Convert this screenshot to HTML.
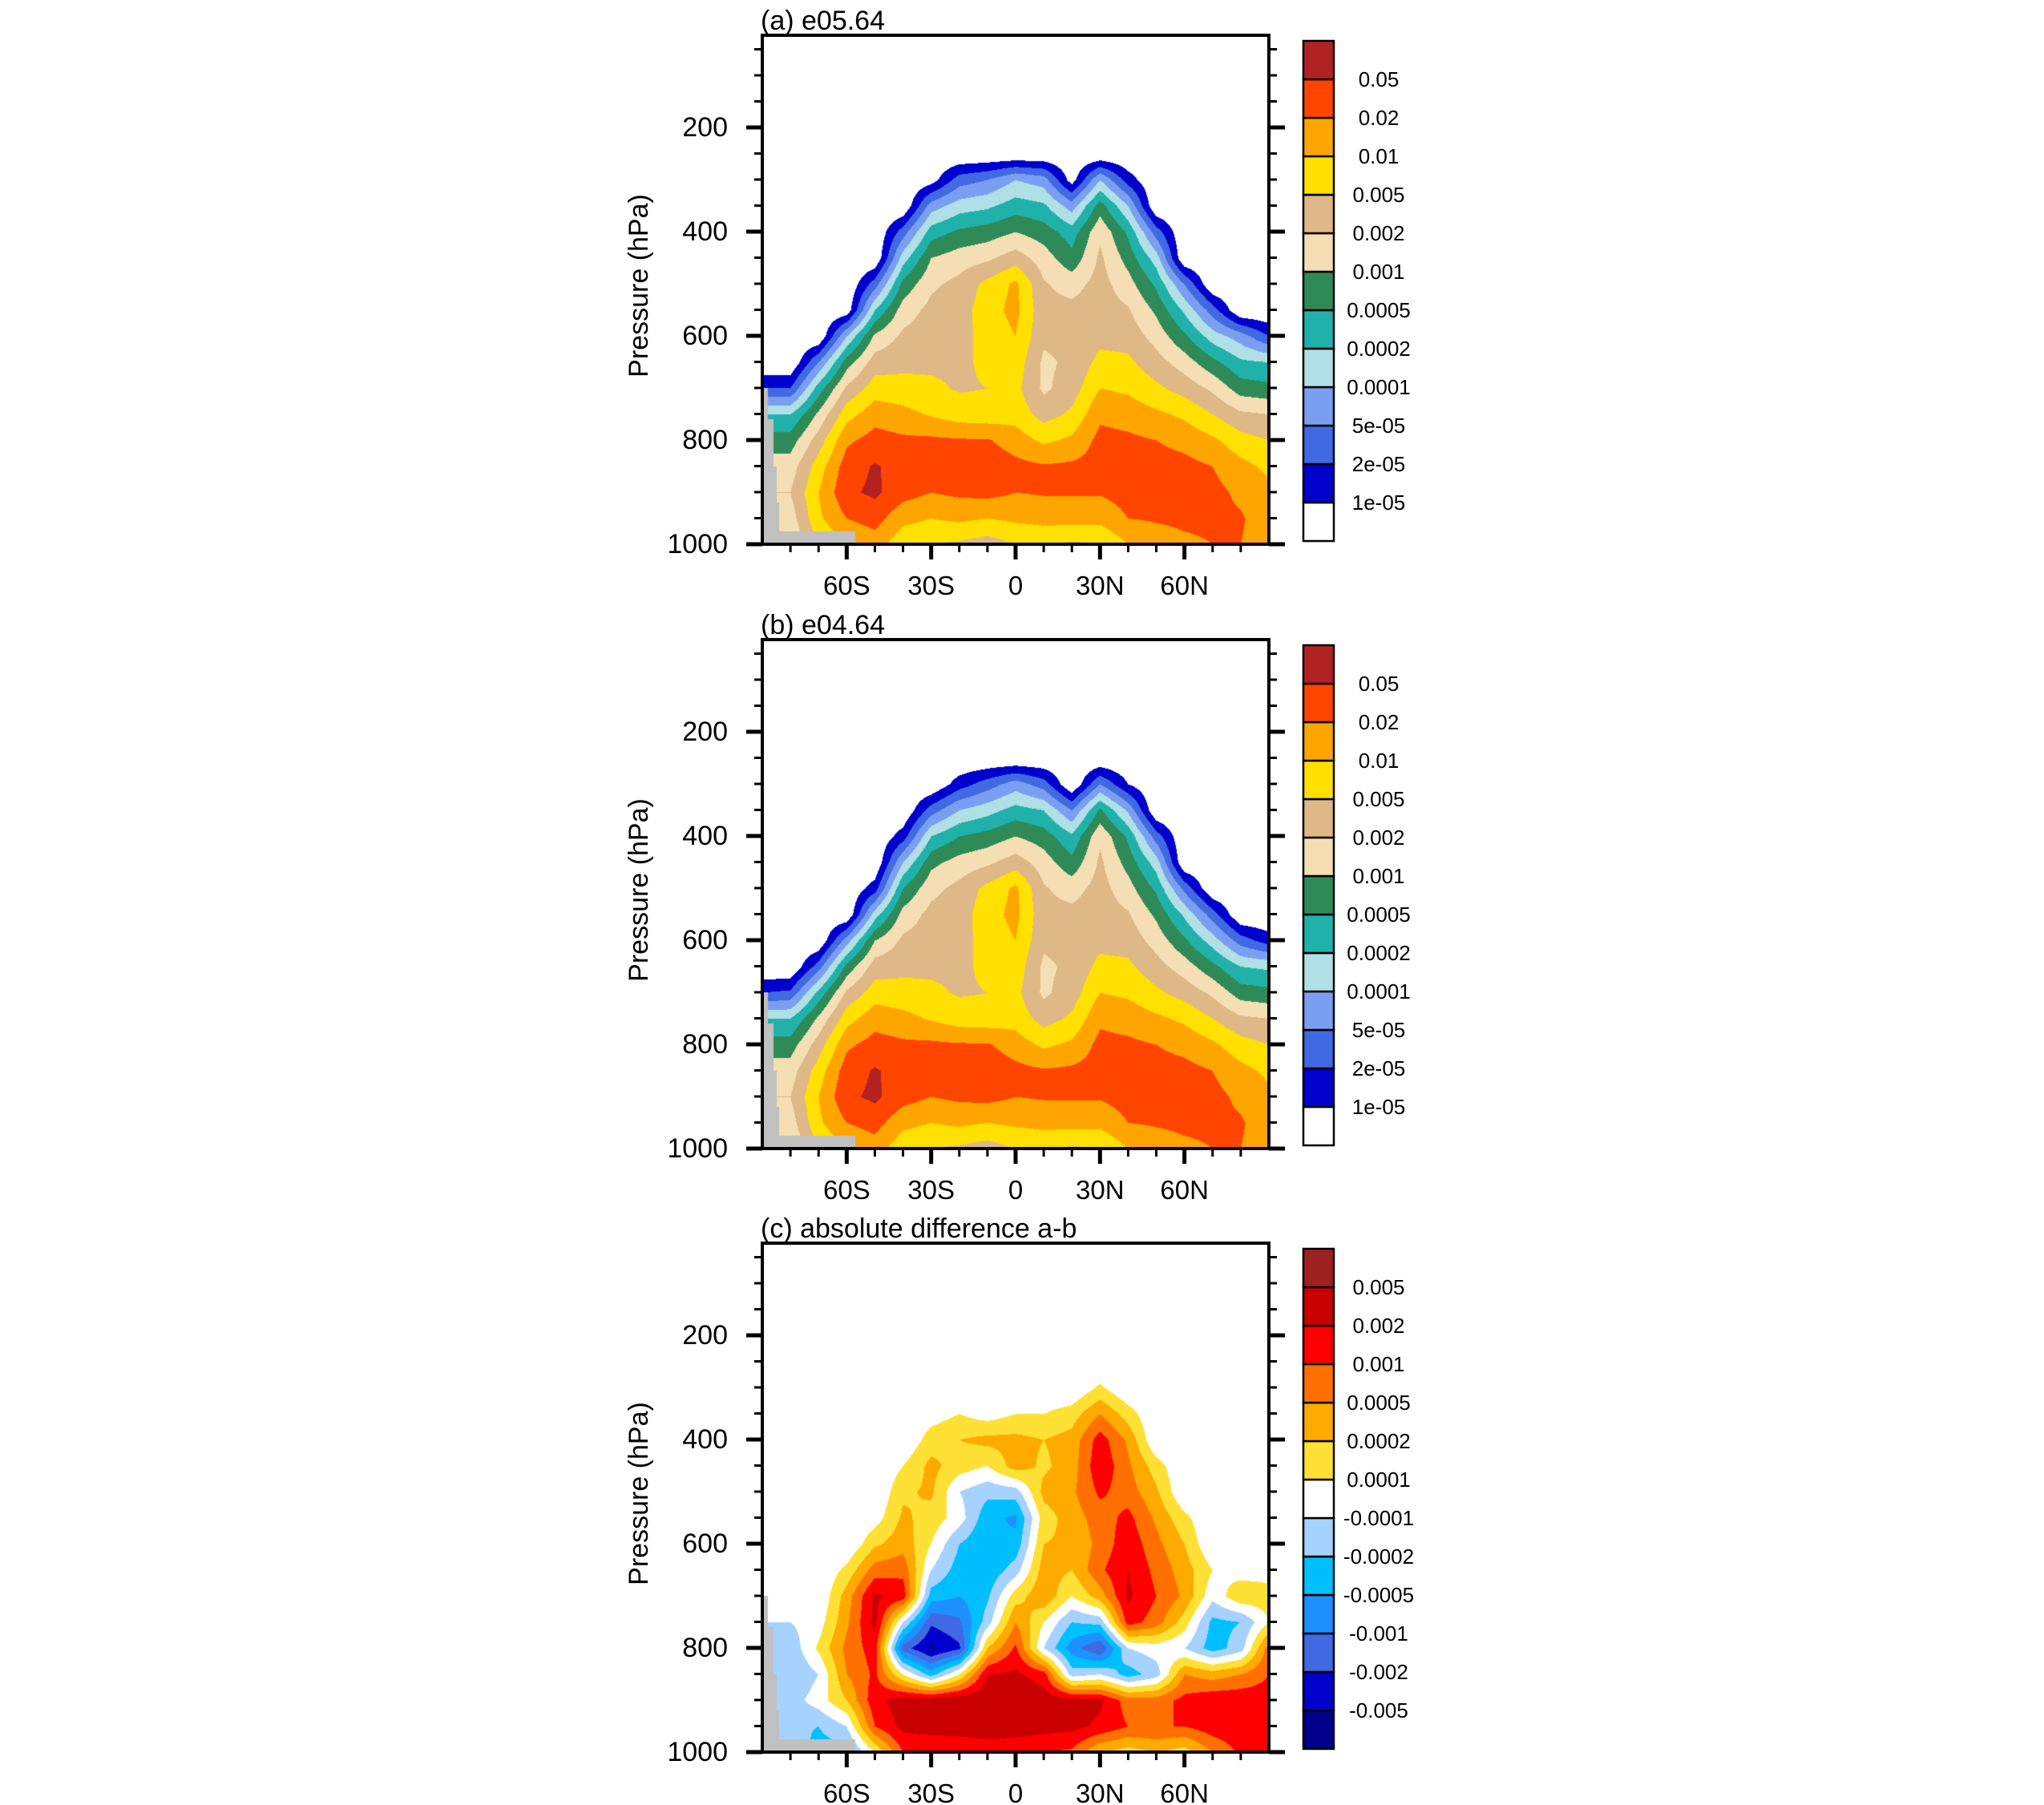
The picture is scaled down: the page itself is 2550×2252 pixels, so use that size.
<!DOCTYPE html>
<html><head><meta charset="utf-8">
<style>
html,body{margin:0;padding:0;background:#fff;}
#root{position:relative;width:2550px;height:2252px;overflow:hidden;background:#fff;font-family:"Liberation Sans",sans-serif;}
canvas{position:absolute;}
svg{position:absolute;left:0;top:0;}
</style></head>
<body>
<div id="root">
<canvas id="cA" width="632" height="635" style="left:951px;top:44px"></canvas>
<canvas id="cB" width="632" height="635" style="left:951px;top:798px"></canvas>
<canvas id="cC" width="632" height="635" style="left:951px;top:1551px"></canvas>
<svg id="ov" width="2550" height="2252"></svg>
</div>
<script>
// ---- data ----
const latitudes = [-90,-80,-70,-60,-50,-40,-30,-20,-10,0,10,20,30,40,50,60,70,80,90];
const levels = [250,300,350,400,450,500,550,600,650,700,750,800,850,900,950,1000];
// panel (a) field in colour-level units (0 = <1e-05 ... 12 = >0.05)
const fieldA = [
[0,0,0,0,0,0,0,0,0,2,5,6.5,7.5,8,7.5,7],
[0,0,0,0,0,0,0,0,0,2,5,6.5,7.5,8,7.5,7],
[0,0,0,0,0,0,0,0,3,5.5,7.2,8.5,9.5,10,9.8,9],
[0,0,0,0,0,0,0.3,4,6.5,8.2,9.6,10.8,11.5,11.8,11,10],
[0,0,0,0,0,2.5,5,7.2,8.5,9.5,10.6,11.4,12.1,12.2,11.4,10.5],
[0,0,0,2.5,4.5,6.3,7.5,8.2,8.7,9.4,10.3,11.2,11.6,11.4,10.3,9.3],
[0,0.5,3.5,5.5,7,7.8,8.3,8.5,8.8,9.2,9.9,11.2,11.5,11,10,9],
[0,2.5,4.5,6.2,7.5,8.3,8.5,8.6,8.8,8.9,9.5,11.1,11.5,11.2,10.2,8.8],
[0,3,4.8,6.5,7.8,9.3,9.6,9.4,9.2,9,9.4,11.1,11.7,11.3,10,8.5],
[0,4,5.5,7,8.5,10.2,10.3,10,9.6,9.3,9.6,10.5,11.3,11,10.2,9],
[0,3.5,5.2,6.5,7.5,8.1,8.3,8.2,7.8,7.8,8.6,9.8,11.1,11.1,10.3,9.2],
[0,0.5,3.5,5.5,6.3,7.6,8.3,8.4,8.2,8.5,9.2,10.2,11.2,11.1,10.4,8.8],
[0,4,6.5,7.8,8.2,8.4,8.5,8.7,9.3,10,10.8,11.3,11.4,11.1,10.3,9],
[0,1.5,4,5.8,6.6,7.4,8.1,8.6,9.2,9.8,10.6,11.2,11.5,11.4,11,10],
[0,0,0,2.5,4.5,5.8,6.8,7.6,8.4,9.2,10.2,11,11.4,11.4,11.1,10.5],
[0,0,0,0,0,3,4.8,6.2,7.5,8.6,9.8,10.7,11.3,11.4,11.2,10.8],
[0,0,0,0,0,0,2.5,4.5,6.3,7.8,9,10.2,11,11.3,11.2,11],
[0,0,0,0,0,0,0,3.5,5.2,6.5,8.2,9.4,10.3,10.8,11.1,11],
[0,0,0,0,0,0,0,2,5,6.3,8,9,9.8,10.2,10.5,10.5]
];
// panel (b)
const fieldB = [
[0,0,0,0,0,0,0,0,0,2,5,6.5,7.5,8,7.5,7],
[0,0,0,0,0,0,0,0,0,2.2,5,6.5,7.5,8,7.5,7],
[0,0,0,0,0,0,0,0,2.5,5.3,7.2,8.5,9.5,10,9.8,9],
[0,0,0,0,0,0,0,3.5,6.3,8.2,9.6,10.8,11.5,11.8,11,10],
[0,0,0,0,0,1.5,4.5,7,8.5,9.5,10.6,11.4,12.1,12.2,11.4,10.5],
[0,0,0,1.5,4,6,7.4,8.2,8.7,9.4,10.3,11.2,11.6,11.4,10.3,9.3],
[0,0,2.5,5,6.7,7.7,8.3,8.5,8.8,9.2,9.9,11.2,11.5,11,10,9],
[0,1.5,4,6,7.4,8.3,8.5,8.6,8.8,8.9,9.5,11.1,11.5,11.2,10.2,8.8],
[0,2.5,4.6,6.4,7.8,9.3,9.6,9.4,9.2,9,9.4,11.1,11.7,11.3,10,8.5],
[0,3.5,5.4,7,8.5,10.2,10.3,10,9.6,9.3,9.6,10.5,11.3,11,10.2,9],
[0,2.5,5,6.5,7.5,8.1,8.3,8.2,7.8,7.8,8.6,9.8,11.1,11.1,10.3,9.2],
[0,0,3,5.2,6.3,7.6,8.3,8.4,8.2,8.5,9.2,10.2,11.2,11.1,10.4,8.8],
[0,3,6.2,7.8,8.2,8.4,8.5,8.7,9.3,10,10.8,11.3,11.4,11.1,10.3,9],
[0,1,3.8,5.8,6.6,7.4,8.1,8.6,9.2,9.8,10.6,11.2,11.5,11.4,11,10],
[0,0,0,2.5,4.5,5.8,6.8,7.6,8.4,9.2,10.2,11,11.4,11.4,11.1,10.5],
[0,0,0,0,0,2.7,4.8,6.2,7.5,8.6,9.8,10.7,11.3,11.4,11.2,10.8],
[0,0,0,0,0,0,2.5,4.5,6.3,7.8,9,10.2,11,11.3,11.2,11],
[0,0,0,0,0,0,0,2.5,5,6.5,8.2,9.4,10.3,10.8,11.1,11],
[0,0,0,0,0,0,0,1.5,4.8,6.3,8,9,9.8,10.2,10.5,10.5]
];
// panel (c) difference in colour-level units (6 = |d|<1e-4)
const fieldC = [
[6,6,6,6,6,6,6,6,6,6,6,5.3,5,5.5,5.2,6],
[6,6,6,6,6,6,6,6,6,6,6,5.3,5,5.5,5.2,6],
[6,6,6,6,6,6,6,6,6,6,6.5,7.2,6,6.5,5,4.5],
[6,6,6,6,6,6,6,6,7.3,8.5,8.8,9.3,9,8,6,4.5],
[6,6,6,6,6,6,6.5,7.8,9.5,11.2,11.3,10.5,10.2,10.7,10,7],
[6,6,6,6,7,7.8,8.2,8.6,9.7,10.6,6,2.5,7,11.5,11.3,10],
[6,6,6.5,7.5,8.3,8.2,7.6,7,6,4.5,2.2,0.8,4.5,11.6,11.5,10],
[6,6,7,8,7.5,6,6.5,5,4.5,4,2.8,1.8,7,11.8,11.5,10.2],
[6,6,6.5,8.3,7,5.3,4.3,4,4.2,4.8,5.5,8,11,11.8,11.5,10.5],
[6,6,7,8.3,8.5,5.5,3.8,4.3,5.5,7.5,9,10.2,11.2,12,11.6,10.2],
[6,6,7,8,7.8,8.3,7.5,8,8.5,8.8,7,6,10.5,11.6,11.4,10],
[6,6,7.5,8.4,8.5,8.8,8.5,8.2,8,7,5,3.5,5.5,11.4,11.3,9.8],
[6,7.2,9,10.5,10.8,10.2,9.5,9.3,9.8,8.5,5.3,2,6,11.2,10.8,8],
[6,6,7.5,8.8,9.2,9.5,10.3,10.7,11,11.2,10.5,6,4.5,9.5,10,7.5],
[6,6,6,6,7.5,8.2,8.8,9.3,9.7,10,9.5,6.5,5.5,9.5,10,8],
[6,6,6,6,6,6,7.3,8,8.5,8.8,7.5,6,9,10.3,10,7.5],
[6,6,6,6,6,6,6,6,7,6.3,4.7,4.5,8.5,10.8,10.6,9],
[6,6,6,6,6,6,6,6,6.5,7.8,5,5.5,9,10.8,10.8,10.2],
[6,6,6,6,6,6,6,6,6.5,7.5,7,9.5,10,10.5,10.5,10]
];
const topoLat = [-90,-88,-86,-85,-84,-57];
const topoP = [700,760,850,920,975,1001];
const colorsQ = ["#ffffff","#0000cd","#4169e1","#7b9ff0","#b0e0e6","#20b2aa","#2e8b57","#f5deb3","#deb887","#ffe000","#ffa500","#ff4500","#b22222"];
const labelsQ = ["1e-05","2e-05","5e-05","0.0001","0.0002","0.0005","0.001","0.002","0.005","0.01","0.02","0.05"];
const colorsD = ["#00008b","#0000cd","#4169e1","#1e90ff","#00bfff","#a6d2ff","#ffffff","#ffe135","#ffaa00","#ff7000","#ff0000","#c80000","#9e2020"];
const labelsD = ["-0.005","-0.002","-0.001","-0.0005","-0.0002","-0.0001","0.0001","0.0002","0.0005","0.001","0.002","0.005"];
const yTicks = [200,400,600,800,1000];
const xTicks = [-60,-30,0,30,60];
const xTickLabels = ["60S","30S","0","30N","60N"];

// ---- geometry ----
const W=632,H=635,X0=951,PPH=0.65;
const lx = lat => X0 + (lat+90)*W/180;
const py = (top,p) => top + H - (1000-p)*PPH;

function sample(field,lat,p,bg){
  if(p<levels[0]) return bg;
  let fi=(lat-latitudes[0])/10; fi=Math.max(0,Math.min(latitudes.length-1.0001,fi));
  let fj=(p-levels[0])/50; fj=Math.max(0,Math.min(levels.length-1.0001,fj));
  const i=Math.floor(fi),j=Math.floor(fj),a=fi-i,b=fj-j;
  const v00=field[i][j],v10=field[i+1][j],v01=field[i][j+1],v11=field[i+1][j+1];
  return (v00*(1-a)+v10*a)*(1-b)+(v01*(1-a)+v11*a)*b;
}
function topo(lat){
  for(let k=topoLat.length-1;k>=0;k--){ if(lat>=topoLat[k]) return topoP[k]; }
  return 1001;
}
function hex(c){return [parseInt(c.substr(1,2),16),parseInt(c.substr(3,2),16),parseInt(c.substr(5,2),16)];}
function render(id,field,colors,bg){
  const cv=document.getElementById(id),ctx=cv.getContext('2d');
  const img=ctx.createImageData(W,H),d=img.data;
  const rgb=colors.map(hex);
  for(let y=0;y<H;y++){
    const p=1000-(H-y)/PPH;
    for(let x=0;x<W;x++){
      const lat=-90+(x+0.5)*180/W;
      let c;
      if(p>=topo(lat)) c=[192,192,192];
      else {
        let v=sample(field,lat,p,bg);
        let k=Math.floor(v+1e-6); k=Math.max(0,Math.min(12,k));
        c=rgb[k];
      }
      const o=(y*W+x)*4; d[o]=c[0];d[o+1]=c[1];d[o+2]=c[2];d[o+3]=255;
    }
  }
  ctx.putImageData(img,0,0);
}
render('cA',fieldA,colorsQ,0);
render('cB',fieldB,colorsQ,0);
render('cC',fieldC,colorsD,6);

// ---- axes ----
const NS='http://www.w3.org/2000/svg';
const ov=document.getElementById('ov');
function mk(tag,attrs,parent){const e=document.createElementNS(NS,tag);for(const k in attrs)e.setAttribute(k,attrs[k]);(parent||ov).appendChild(e);return e;}
const panels=[{top:44,title:"(a) e05.64",colors:colorsQ,labels:labelsQ,key:"a"},
              {top:798,title:"(b) e04.64",colors:colorsQ,labels:labelsQ,key:"b"},
              {top:1551,title:"(c) absolute difference a-b",colors:colorsD,labels:labelsD,key:"c"}];
panels.forEach(P=>{
  const g=mk('g',{});
  
  
  const t=mk('text',{x:949,y:P.top-7,'font-size':34,fill:'#000'},g);
  t.textContent=P.title;
  
  
  for(let p=50;p<=1000;p+=50){
    const y=py(P.top,p); if(y<P.top) continue;
    const major=yTicks.includes(p);
    const len=major?20:10;
    const l1=mk('line',{x1:X0-len,x2:X0,y1:y,y2:y,stroke:'#000','stroke-width':major?5:3},g);
    
    
    const l2=mk('line',{x1:X0+W,x2:X0+W+len,y1:y,y2:y,stroke:'#000','stroke-width':major?5:3},g);
    
    
    if(major){
      const tl=mk('text',{x:908,y:y,'font-size':34,'text-anchor':'end','dominant-baseline':'central'},g);
      tl.textContent=String(p);
      
      
    }
  }
  for(let lat=-80;lat<=80;lat+=10){
    const x=lx(lat),major=xTicks.includes(lat);
    const l=mk('line',{x1:x,x2:x,y1:P.top+H,y2:P.top+H+(major?19:10),stroke:'#000','stroke-width':major?5:3},g);
    
    
  }
  xTicks.forEach((lat,i)=>{
    const tl=mk('text',{x:lx(lat),y:P.top+H+63,'font-size':33,'text-anchor':'middle'},g);
    tl.textContent=xTickLabels[i];
    
    
  });
  const fr=mk('rect',{x:X0,y:P.top,width:W,height:H,fill:'none',stroke:'#000','stroke-width':4},g);
  
  
  const yl=mk('text',{x:0,y:0,'font-size':34,'text-anchor':'middle',transform:`translate(808,${P.top+H/2-5}) rotate(-90)`},g);
  yl.textContent='Pressure (hPa)';
  
  
  const cb=mk('g',{},g);
  
  
  const bh=48,cx=1626,ct=P.top+7,n=P.colors.length;
  for(let k=0;k<n;k++){
    const r=mk('rect',{x:cx,y:ct+(n-1-k)*bh,width:38,height:bh,fill:P.colors[k],stroke:'#000','stroke-width':2.5},cb);
    
    
  }
  P.labels.forEach((s,k)=>{
    const tl=mk('text',{x:1720,y:ct+(n-1-k)*bh,'font-size':26,'text-anchor':'middle','dominant-baseline':'central'},cb);
    tl.textContent=s;
    
    
  });
});
</script>
</body></html>
